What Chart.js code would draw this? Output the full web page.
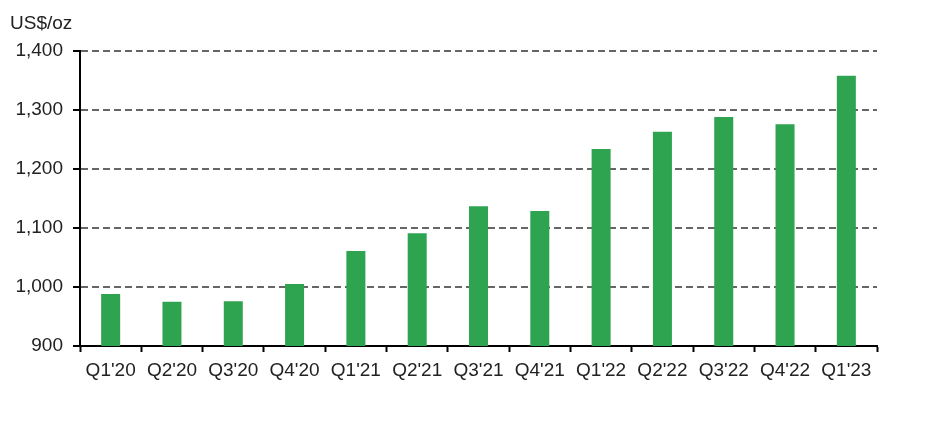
<!DOCTYPE html>
<html><head><meta charset="utf-8">
<script src="https://cdn.jsdelivr.net/npm/chart.js@4"></script>
<style>html,body{margin:0;padding:0;background:#fff}#wrap{width:948px;height:448px}</style>
</head><body><div id="wrap"><canvas id="c" width="948" height="448"></canvas></div>
<script>
const categories = ["Q1'20","Q2'20","Q3'20","Q4'20","Q1'21","Q2'21","Q3'21","Q4'21","Q1'22","Q2'22","Q3'22","Q4'22","Q1'23"];
const values = [988, 975, 976, 1005, 1061, 1091, 1137, 1129, 1234, 1263, 1288, 1276, 1358];
const yTicks = [900, 1000, 1100, 1200, 1300, 1400];
const unitLabel = "US$/oz";

const FONT = "'Liberation Sans', Arial, sans-serif";
const FSIZE = 19;
const unitPlugin = {
  id: 'unit',
  afterDraw(chart) {
    const ctx = chart.ctx;
    ctx.save();
    ctx.font = FSIZE + "px " + FONT;
    ctx.fillStyle = "#222";
    ctx.textAlign = "left";
    ctx.textBaseline = "middle";
    ctx.fillText(unitLabel, 10, 24);
    ctx.restore();
  }
};

new Chart(document.getElementById('c'), {
  type: 'bar',
  data: { labels: categories, datasets: [{ data: values, backgroundColor: '#2EA450', barPercentage: 0.62, categoryPercentage: 0.5 }] },
  options: {
    responsive: false, animation: false,
    layout: { padding: { left: 0, right: 71, top: 51, bottom: 0 } },
    plugins: { legend: { display: false }, tooltip: { enabled: false } },
    scales: {
      x: {
        afterFit(s) { s.height = 102; },
        border: { color: '#000', width: 2 },
        grid: { offset: true, drawOnChartArea: false, drawTicks: true, tickLength: 6, tickColor: '#000', tickWidth: 2 },
        ticks: { font: { family: FONT, size: FSIZE }, color: '#222', padding: 7, maxRotation: 0, autoSkip: false }
      },
      y: {
        min: 900, max: 1400,
        afterFit(s) { s.width = 80; },
        afterBuildTicks(s) { s.ticks = yTicks.map(v => ({ value: v })); },
        border: { color: '#000', width: 2, dash: [7, 4] },
        grid: { color: '#666', lineWidth: 2, tickLength: 7, tickColor: '#000', tickWidth: 2, tickBorderDash: [] },
        ticks: { font: { family: FONT, size: FSIZE }, color: '#222', padding: 10,
          callback: v => v.toLocaleString('en-US') }
      }
    }
  },
  plugins: [unitPlugin]
});
</script></body></html>
